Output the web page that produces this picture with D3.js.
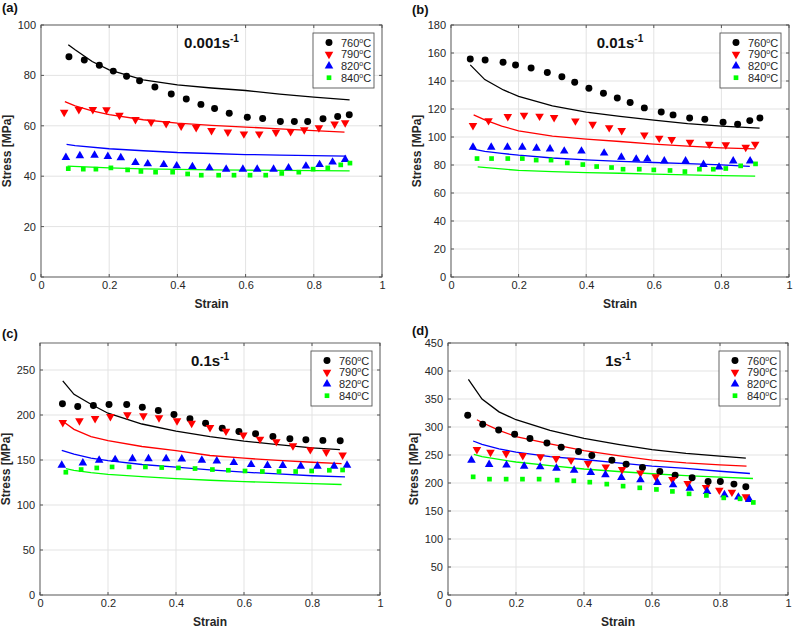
<!DOCTYPE html>
<html>
<head>
<meta charset="utf-8">
<script src="https://cdn.jsdelivr.net/npm/d3@7/dist/d3.min.js"></script>
<style>
  body{margin:0;background:#fff;}
  text{font-family:Arial,"Liberation Sans",sans-serif;}
</style>
</head>
<body>
<svg id="fig" width="793" height="629"></svg>
<script>
// temperatures + strain ticks
var temps = ['760','790','820','840'];
var xTicks = [0,0.2,0.4,0.6,0.8,1];

// (a) 0.001 s-1 : measured
var a760x = [0.082,0.127,0.171,0.212,0.251,0.289,0.334,0.382,0.426,0.469,0.509,0.552,0.605,0.650,0.702,0.743,0.782,0.827,0.870,0.904];
var a760y = [87.4,86.1,84.0,81.7,79.7,77.9,75.4,72.6,70.6,68.5,66.9,65.0,63.4,62.9,61.7,61.7,61.7,62.8,63.7,64.4];
var a790x = [0.068,0.111,0.152,0.192,0.230,0.277,0.323,0.367,0.411,0.455,0.500,0.548,0.595,0.640,0.689,0.732,0.772,0.815,0.861,0.892];
var a790y = [65.4,66.5,66.5,66.4,64.2,62.5,61.5,60.9,59.9,59.3,58.1,57.5,56.8,56.8,57.4,57.7,58.4,59.2,60.7,61.2];
var a820x = [0.073,0.114,0.157,0.196,0.234,0.277,0.313,0.360,0.398,0.444,0.494,0.543,0.592,0.634,0.682,0.726,0.777,0.817,0.855,0.892];
var a820y = [47.4,48.1,48.3,47.8,47.3,45.4,44.9,44.6,44.1,43.8,43.3,42.8,42.8,42.8,42.8,43.3,44.0,44.6,45.6,46.6];
var a840x = [0.080,0.124,0.161,0.205,0.254,0.293,0.336,0.386,0.430,0.470,0.521,0.566,0.613,0.659,0.706,0.756,0.798,0.841,0.879,0.906];
var a840y = [43.0,42.8,42.8,43.3,42.5,41.9,41.6,41.6,40.9,40.4,40.4,40.4,40.4,40.4,41.1,41.6,42.8,43.3,44.5,45.2];
// (a) model
var fa760x = [0.08,0.1,0.15,0.2,0.3,0.4,0.5,0.6,0.7,0.8,0.905];
var fa760y = [92.2,90.2,85.5,82.2,78.2,76.2,75.0,74.0,72.6,71.4,70.3];
var fa790x = [0.07,0.1,0.15,0.2,0.3,0.4,0.5,0.6,0.7,0.8,0.89];
var fa790y = [69.6,67.9,65.9,64.4,62.4,61.1,60.2,59.5,58.8,58.1,57.5];
var fa820x = [0.075,0.1,0.2,0.3,0.4,0.5,0.6,0.7,0.8,0.895];
var fa820y = [52.6,52.1,50.9,50.1,49.4,49.0,48.6,48.4,48.2,48.0];
var fa840x = [0.078,0.2,0.3,0.4,0.5,0.6,0.7,0.8,0.905];
var fa840y = [44.0,43.3,42.9,42.7,42.5,42.4,42.3,42.2,42.1];

// (b) 0.01 s-1 : measured
var b760x = [0.057,0.101,0.154,0.191,0.237,0.285,0.328,0.366,0.408,0.451,0.492,0.530,0.572,0.622,0.657,0.706,0.751,0.805,0.848,0.884,0.914];
var b760y = [155.7,155.0,153.4,151.5,149.3,146.0,143.1,139.1,134.8,131.3,127.9,124.6,120.8,117.9,115.8,113.6,112.7,110.6,109.1,111.7,113.6];
var b790x = [0.065,0.111,0.168,0.216,0.262,0.305,0.368,0.419,0.468,0.505,0.572,0.616,0.653,0.707,0.764,0.813,0.872,0.900];
var b790y = [108.2,111.7,114.6,115.6,114.9,113.9,111.5,109.1,106.7,104.6,101.5,99.2,98.2,96.3,94.9,94.4,92.7,94.9];
var b820x = [0.065,0.119,0.167,0.211,0.253,0.293,0.335,0.386,0.453,0.504,0.548,0.581,0.631,0.694,0.747,0.793,0.835,0.885];
var b820y = [92.7,92.7,92.7,92.7,92.0,91.5,89.9,89.9,88.5,85.6,84.2,84.2,82.8,82.8,80.3,78.5,82.8,82.8];
var b840x = [0.077,0.120,0.168,0.211,0.252,0.296,0.344,0.390,0.431,0.475,0.509,0.557,0.600,0.648,0.692,0.735,0.776,0.813,0.857,0.901];
var b840y = [84.6,84.6,84.6,84.6,83.5,83.5,81.5,80.3,78.9,78.2,77.0,77.0,76.5,76.1,75.3,77.0,77.0,77.5,79.4,80.8];
// (b) model
var fb760x = [0.057,0.1,0.155,0.2,0.3,0.4,0.5,0.6,0.7,0.8,0.913];
var fb760y = [151.5,141.0,133.6,129.0,122.2,117.8,114.8,112.0,109.6,107.8,106.3];
var fb790x = [0.067,0.1,0.15,0.2,0.3,0.4,0.5,0.6,0.7,0.8,0.899];
var fb790y = [115.8,112.2,107.8,104.4,100.6,98.5,96.8,94.9,93.5,92.3,91.5];
var fb820x = [0.062,0.1,0.15,0.2,0.3,0.4,0.5,0.6,0.7,0.8,0.884];
var fb820y = [91.5,89.8,88.3,87.0,85.0,83.6,82.6,81.8,81.0,80.1,79.0];
var fb840x = [0.079,0.2,0.3,0.4,0.5,0.6,0.7,0.8,0.9];
var fb840y = [78.7,76.1,75.2,74.6,74.1,73.5,72.9,72.4,72.0];

// (c) 0.1 s-1 : measured
var c760x = [0.066,0.111,0.157,0.203,0.255,0.301,0.348,0.394,0.441,0.487,0.536,0.585,0.634,0.685,0.735,0.782,0.832,0.883];
var c760y = [212.4,209.4,210.5,211.6,211.6,208.6,205.0,200.6,195.8,190.9,185.4,181.7,179.2,176.2,173.7,172.6,171.8,171.5];
var c790x = [0.067,0.116,0.162,0.207,0.257,0.304,0.350,0.403,0.446,0.500,0.547,0.598,0.647,0.695,0.744,0.795,0.842,0.890];
var c790y = [191.7,193.6,196.1,198.3,200.2,199.1,196.9,193.6,190.9,186.2,182.1,177.7,173.2,170.4,165.9,161.5,158.8,155.5];
var c820x = [0.064,0.126,0.174,0.221,0.272,0.319,0.371,0.417,0.476,0.520,0.570,0.621,0.669,0.714,0.767,0.816,0.865,0.903];
var c820y = [144.1,146.7,149.7,150.4,151.5,151.5,151.5,151.1,149.7,148.9,147.1,144.9,143.8,143.8,143.0,143.0,143.0,144.1];
var c840x = [0.076,0.121,0.167,0.212,0.262,0.310,0.358,0.407,0.456,0.507,0.554,0.603,0.654,0.703,0.752,0.799,0.851,0.890];
var c840y = [136.4,139.4,141.2,142.3,142.3,142.3,141.6,141.2,140.5,139.4,138.6,137.8,137.2,137.2,137.2,137.8,138.6,138.9];
// (c) model
var fc760x = [0.067,0.1,0.15,0.2,0.3,0.4,0.5,0.6,0.7,0.8,0.882];
var fc760y = [238,223,212,202,190,182,176,171,167,163.5,161.5];
var fc790x = [0.069,0.1,0.15,0.2,0.3,0.4,0.5,0.6,0.7,0.8,0.887];
var fc790y = [192.5,184,176,171.5,165,160.5,155,152,149.5,147.5,146];
var fc820x = [0.064,0.1,0.15,0.2,0.3,0.4,0.5,0.6,0.7,0.8,0.897];
var fc820y = [160.7,156.5,152,149.3,145,142,139,136.5,134.5,132.5,131.2];
var fc840x = [0.076,0.1,0.15,0.2,0.3,0.4,0.5,0.6,0.7,0.8,0.887];
var fc840y = [140.5,138.5,136,134,131.5,129.3,127.5,126,124.8,123.7,122.8];

// (d) 1 s-1 : measured
var d760x = [0.058,0.102,0.149,0.196,0.241,0.291,0.333,0.384,0.423,0.482,0.524,0.572,0.623,0.668,0.718,0.765,0.801,0.841,0.876];
var d760y = [321.0,305.0,294.8,287.1,279.5,271.6,264.0,256.3,249.2,240.8,233.6,227.7,220.6,214.0,209.2,202.8,202.8,198.0,193.2];
var d790x = [0.085,0.125,0.171,0.220,0.272,0.318,0.362,0.412,0.464,0.512,0.566,0.611,0.660,0.705,0.759,0.798,0.835,0.876];
var d790y = [259.9,255.0,252.7,249.2,246.7,243.8,240.8,234.9,228.8,224.2,218.1,211.0,206.3,199.2,192.1,187.3,183.7,175.3];
var d820x = [0.069,0.121,0.172,0.224,0.271,0.319,0.371,0.420,0.463,0.510,0.566,0.616,0.662,0.711,0.762,0.813,0.854,0.886];
var d820y = [240.8,233.1,231.9,230.1,228.8,226.5,222.9,218.8,214.6,209.9,205.6,201.0,196.7,190.8,184.9,178.9,174.8,170.7];
var d840x = [0.074,0.122,0.171,0.219,0.268,0.321,0.370,0.417,0.467,0.515,0.564,0.613,0.660,0.709,0.760,0.811,0.859,0.898];
var d840y = [211.0,206.9,206.9,206.9,206.9,205.1,203.9,201.5,198.0,194.4,191.4,188.5,185.0,180.7,177.8,173.5,171.8,165.3];
// (d) model
var fd760x = [0.06,0.1,0.15,0.2,0.3,0.4,0.5,0.6,0.7,0.8,0.876];
var fd760y = [385,350,327,313,294,279.5,269,259.5,253,248,244.5];
var fd790x = [0.085,0.1,0.15,0.2,0.3,0.4,0.5,0.6,0.7,0.8,0.878];
var fd790y = [313,308,294,283,270,258,249,241,236,232.5,230];
var fd820x = [0.074,0.1,0.15,0.2,0.3,0.4,0.5,0.6,0.7,0.8,0.888];
var fd820y = [275,269,261,255,247,242,236,230,226,221,217];
var fd840x = [0.076,0.1,0.15,0.2,0.3,0.4,0.5,0.6,0.7,0.8,0.897];
var fd840y = [251,247,242,237.5,231,225,220.5,216.5,213,210.5,208];

var colors = ['#000000','#ff0000','#0000ff','#00ff00'];
var shapes = [d3.symbolCircle, d3.symbolTriangle, d3.symbolTriangle, d3.symbolSquare];
var sizes = [38, 32, 32, 22];
var flips = [0, 180, 0, 0];

var svg = d3.select('#fig');

function zip(xs, ys){
  return xs.map(function(v,i){ return [v, ys[i]]; });
}

function drawPanel(p){
  var g = svg.append('g');
  var x = d3.scaleLinear().domain([0,1]).range([p.left, p.right]);
  var y = d3.scaleLinear().domain([0,p.ymax]).range([p.bottom, p.top]);
  var yTicks = d3.range(0, p.ymax + 0.001, p.ystep);

  // grid
  g.selectAll('.gx').data(xTicks).enter().append('line')
    .attr('x1', x).attr('x2', x).attr('y1', p.top).attr('y2', p.bottom)
    .attr('stroke', '#e3e3e3').attr('stroke-width', 1);
  g.selectAll('.gy').data(yTicks).enter().append('line')
    .attr('x1', p.left).attr('x2', p.right).attr('y1', y).attr('y2', y)
    .attr('stroke', '#e3e3e3').attr('stroke-width', 1);

  // axes (labels only, ticks drawn inward below)
  var xa = g.append('g').attr('transform', 'translate(0,' + p.bottom + ')')
    .call(d3.axisBottom(x).tickValues(xTicks).tickSize(0).tickPadding(4).tickFormat(function(d){ return String(d); }));
  var ya = g.append('g').attr('transform', 'translate(' + p.left + ',0)')
    .call(d3.axisLeft(y).tickValues(yTicks).tickSize(0).tickPadding(5).tickFormat(function(d){ return String(d); }));
  [xa, ya].forEach(function(a){
    a.select('.domain').remove();
    a.attr('font-size', 11).attr('font-family', 'Arial, "Liberation Sans", sans-serif');
    a.selectAll('text').attr('fill', '#262626');
  });

  // inward ticks on all sides
  xTicks.forEach(function(t){
    g.append('line').attr('x1', x(t)).attr('x2', x(t)).attr('y1', p.bottom).attr('y2', p.bottom - 3).attr('stroke', '#555');
    g.append('line').attr('x1', x(t)).attr('x2', x(t)).attr('y1', p.top).attr('y2', p.top + 3).attr('stroke', '#555');
  });
  yTicks.forEach(function(t){
    g.append('line').attr('x1', p.left).attr('x2', p.left + 3).attr('y1', y(t)).attr('y2', y(t)).attr('stroke', '#555');
    g.append('line').attr('x1', p.right).attr('x2', p.right - 3).attr('y1', y(t)).attr('y2', y(t)).attr('stroke', '#555');
  });

  // model curves
  var lineGen = d3.line().x(function(d){ return x(d[0]); }).y(function(d){ return y(d[1]); });
  p.fits.forEach(function(f, i){
    g.append('path').attr('d', lineGen(f)).attr('fill', 'none')
      .attr('stroke', colors[i]).attr('stroke-width', 1.3);
  });

  // measured points
  p.pts.forEach(function(s, i){
    g.selectAll('.m' + i).data(s).enter().append('path')
      .attr('d', d3.symbol().type(shapes[i]).size(sizes[i]))
      .attr('transform', function(d){ return 'translate(' + x(d[0]) + ',' + y(d[1]) + ') rotate(' + flips[i] + ')'; })
      .attr('fill', colors[i]);
  });

  // frame
  g.append('rect').attr('x', p.left).attr('y', p.top)
    .attr('width', p.right - p.left).attr('height', p.bottom - p.top)
    .attr('fill', 'none').attr('stroke', '#555').attr('stroke-width', 0.9);

  // rate title
  var tt = g.append('text').attr('x', (p.left + p.right) / 2).attr('y', p.top + 23)
    .attr('text-anchor', 'middle').attr('font-size', 15).attr('font-weight', 'bold').attr('fill', '#111');
  tt.append('tspan').text(p.rate + 's');
  tt.append('tspan').attr('font-size', 10).attr('dy', -6).text('-1');

  // legend
  var lx = p.right - 69, ly = p.top + 8;
  g.append('rect').attr('x', lx).attr('y', ly).attr('width', 61).attr('height', 55)
    .attr('fill', '#fff').attr('stroke', '#555').attr('stroke-width', 0.9);
  temps.forEach(function(t, i){
    var ry = ly + 9.6 + i * 11.7;
    g.append('path').attr('d', d3.symbol().type(shapes[i]).size(sizes[i]))
      .attr('transform', 'translate(' + (lx + 16) + ',' + ry + ') rotate(' + flips[i] + ')')
      .attr('fill', colors[i]);
    var tx = g.append('text').attr('x', lx + 28).attr('y', ry + 4).attr('font-size', 11).attr('fill', '#262626');
    tx.append('tspan').text(t);
    tx.append('tspan').attr('font-size', 7).attr('dy', -4).text('o');
    tx.append('tspan').attr('dy', 4).text('C');
  });

  // axis titles
  g.append('text').attr('x', (p.left + p.right) / 2).attr('y', p.bottom + 31)
    .attr('text-anchor', 'middle').attr('font-size', 12).attr('font-weight', 'bold').attr('fill', '#262626')
    .text('Strain');
  g.append('text').attr('transform', 'translate(' + (p.left - 30) + ',' + ((p.top + p.bottom) / 2) + ') rotate(-90)')
    .attr('text-anchor', 'middle').attr('font-size', 12).attr('font-weight', 'bold').attr('fill', '#262626')
    .text('Stress [MPa]');

  // panel letter
  g.append('text').attr('x', p.lx).attr('y', p.ly)
    .attr('font-size', 13).attr('font-weight', 'bold').attr('fill', '#111').text(p.letter);
}

drawPanel({
  left: 41, right: 382, top: 25, bottom: 277, ymax: 100, ystep: 20, rate: '0.001',
  letter: '(a)', lx: 2, ly: 12,
  pts: [zip(a760x,a760y), zip(a790x,a790y), zip(a820x,a820y), zip(a840x,a840y)],
  fits: [zip(fa760x,fa760y), zip(fa790x,fa790y), zip(fa820x,fa820y), zip(fa840x,fa840y)]
});
drawPanel({
  left: 451, right: 789, top: 25, bottom: 277, ymax: 180, ystep: 20, rate: '0.01',
  letter: '(b)', lx: 412, ly: 14,
  pts: [zip(b760x,b760y), zip(b790x,b790y), zip(b820x,b820y), zip(b840x,b840y)],
  fits: [zip(fb760x,fb760y), zip(fb790x,fb790y), zip(fb820x,fb820y), zip(fb840x,fb840y)]
});
drawPanel({
  left: 40, right: 380, top: 343, bottom: 595, ymax: 280, ystep: 50, rate: '0.1',
  letter: '(c)', lx: 2, ly: 338,
  pts: [zip(c760x,c760y), zip(c790x,c790y), zip(c820x,c820y), zip(c840x,c840y)],
  fits: [zip(fc760x,fc760y), zip(fc790x,fc790y), zip(fc820x,fc820y), zip(fc840x,fc840y)]
});
drawPanel({
  left: 448, right: 788, top: 343, bottom: 595, ymax: 450, ystep: 50, rate: '1',
  letter: '(d)', lx: 412, ly: 335,
  pts: [zip(d760x,d760y), zip(d790x,d790y), zip(d820x,d820y), zip(d840x,d840y)],
  fits: [zip(fd760x,fd760y), zip(fd790x,fd790y), zip(fd820x,fd820y), zip(fd840x,fd840y)]
});
</script>
</body>
</html>
